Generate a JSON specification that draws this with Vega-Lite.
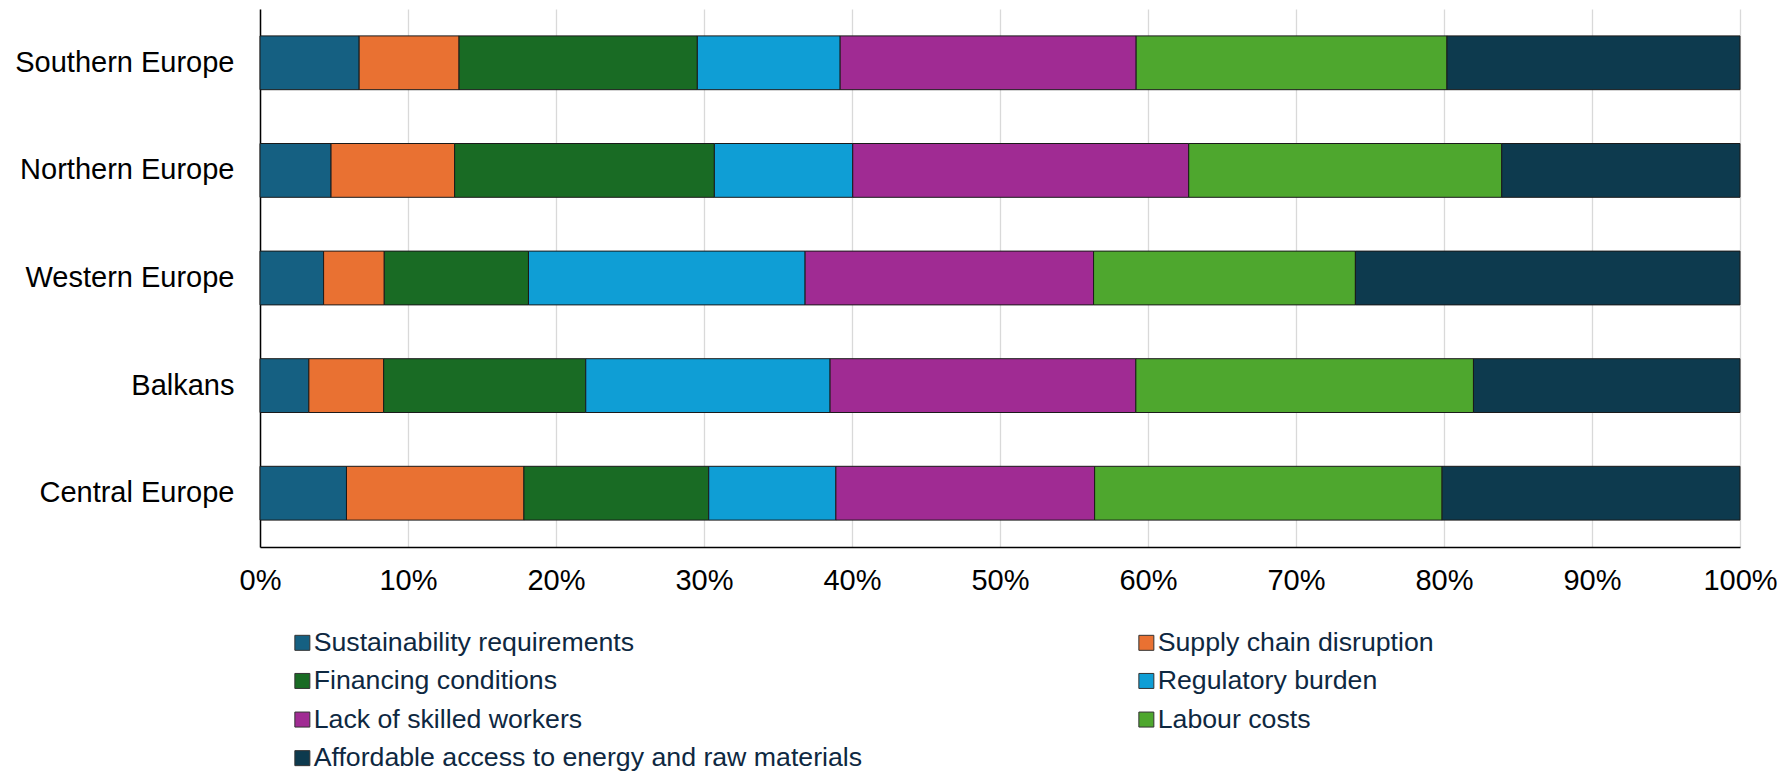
{
 "$schema": "https://vega.github.io/schema/vega-lite/v6.json",
 "width": 1480,
 "height": 538,
 "autosize": {"type": "none"},
 "padding": {"left": 260, "top": 9, "right": 49, "bottom": 226},
 "background": "white",
 "config": {"view": {"stroke": null}, "font": "Liberation Sans"},
 "data": {"values": [
  {"region": "Southern Europe", "factor": "Sustainability requirements", "rank": 1, "value": 6.7},
  {"region": "Southern Europe", "factor": "Supply chain disruption", "rank": 2, "value": 6.75},
  {"region": "Southern Europe", "factor": "Financing conditions", "rank": 3, "value": 16.1},
  {"region": "Southern Europe", "factor": "Regulatory burden", "rank": 4, "value": 9.65},
  {"region": "Southern Europe", "factor": "Lack of skilled workers", "rank": 5, "value": 20.0},
  {"region": "Southern Europe", "factor": "Labour costs", "rank": 6, "value": 21.0},
  {"region": "Southern Europe", "factor": "Affordable access to energy and raw materials", "rank": 7, "value": 19.8},
  {"region": "Northern Europe", "factor": "Sustainability requirements", "rank": 1, "value": 4.8},
  {"region": "Northern Europe", "factor": "Supply chain disruption", "rank": 2, "value": 8.35},
  {"region": "Northern Europe", "factor": "Financing conditions", "rank": 3, "value": 17.55},
  {"region": "Northern Europe", "factor": "Regulatory burden", "rank": 4, "value": 9.35},
  {"region": "Northern Europe", "factor": "Lack of skilled workers", "rank": 5, "value": 22.7},
  {"region": "Northern Europe", "factor": "Labour costs", "rank": 6, "value": 21.15},
  {"region": "Northern Europe", "factor": "Affordable access to energy and raw materials", "rank": 7, "value": 16.1},
  {"region": "Western Europe", "factor": "Sustainability requirements", "rank": 1, "value": 4.3},
  {"region": "Western Europe", "factor": "Supply chain disruption", "rank": 2, "value": 4.1},
  {"region": "Western Europe", "factor": "Financing conditions", "rank": 3, "value": 9.75},
  {"region": "Western Europe", "factor": "Regulatory burden", "rank": 4, "value": 18.7},
  {"region": "Western Europe", "factor": "Lack of skilled workers", "rank": 5, "value": 19.5},
  {"region": "Western Europe", "factor": "Labour costs", "rank": 6, "value": 17.7},
  {"region": "Western Europe", "factor": "Affordable access to energy and raw materials", "rank": 7, "value": 26.0},
  {"region": "Balkans", "factor": "Sustainability requirements", "rank": 1, "value": 3.3},
  {"region": "Balkans", "factor": "Supply chain disruption", "rank": 2, "value": 5.05},
  {"region": "Balkans", "factor": "Financing conditions", "rank": 3, "value": 13.65},
  {"region": "Balkans", "factor": "Regulatory burden", "rank": 4, "value": 16.5},
  {"region": "Balkans", "factor": "Lack of skilled workers", "rank": 5, "value": 20.65},
  {"region": "Balkans", "factor": "Labour costs", "rank": 6, "value": 22.8},
  {"region": "Balkans", "factor": "Affordable access to energy and raw materials", "rank": 7, "value": 18.0},
  {"region": "Central Europe", "factor": "Sustainability requirements", "rank": 1, "value": 5.85},
  {"region": "Central Europe", "factor": "Supply chain disruption", "rank": 2, "value": 12.0},
  {"region": "Central Europe", "factor": "Financing conditions", "rank": 3, "value": 12.5},
  {"region": "Central Europe", "factor": "Regulatory burden", "rank": 4, "value": 8.6},
  {"region": "Central Europe", "factor": "Lack of skilled workers", "rank": 5, "value": 17.5},
  {"region": "Central Europe", "factor": "Labour costs", "rank": 6, "value": 23.5},
  {"region": "Central Europe", "factor": "Affordable access to energy and raw materials", "rank": 7, "value": 20.15}
 ]},
 "mark": {"type": "bar", "stroke": "#1a1a1a", "strokeWidth": 1},
 "encoding": {
  "y": {
   "field": "region", "type": "nominal",
   "sort": ["Southern Europe", "Northern Europe", "Western Europe", "Balkans", "Central Europe"],
   "scale": {"paddingInner": 0.5, "paddingOuter": 0.25},
   "axis": {"title": null, "ticks": false, "domain": true, "domainColor": "#000000", "domainWidth": 1.5, "labelFontSize": 29, "labelColor": "#000000", "labelPadding": 26, "labelLimit": 0, "grid": false}
  },
  "x": {
   "field": "value", "type": "quantitative", "stack": "normalize",
   "scale": {"domain": [0, 1], "nice": false},
   "axis": {"title": null, "values": [0, 0.1, 0.2, 0.3, 0.4, 0.5, 0.6, 0.7, 0.8, 0.9, 1], "format": ".0%", "ticks": false, "grid": true, "gridColor": "#d9d9d9", "gridWidth": 1.3, "domainColor": "#000000", "domainWidth": 1.5, "labelFontSize": 29, "labelPadding": 19, "labelColor": "#000000", "labelFlush": false}
  },
  "color": {
   "field": "factor", "type": "nominal",
   "scale": {
    "domain": ["Sustainability requirements", "Supply chain disruption", "Financing conditions", "Regulatory burden", "Lack of skilled workers", "Labour costs", "Affordable access to energy and raw materials"],
    "range": ["#156082", "#E97132", "#196B24", "#0F9ED5", "#A02B93", "#4EA72E", "#0D3A4E"]
   },
   "legend": {
    "title": null, "orient": "none", "legendX": 29, "legendY": 620, "columns": 2, "columnPadding": 270, "rowPadding": 10.6,
    "values": ["Sustainability requirements", "Financing conditions", "Lack of skilled workers", "Affordable access to energy and raw materials", "Supply chain disruption", "Regulatory burden", "Labour costs"],
    "symbolType": "square", "symbolSize": 225, "symbolStrokeColor": "#333333", "symbolStrokeWidth": 1, "symbolOpacity": 1,
    "labelFontSize": 26.7, "labelColor": "#0E2841", "labelOffset": -2, "labelLimit": 0
   }
  },
  "order": {"field": "rank", "type": "quantitative"}
 }
}
